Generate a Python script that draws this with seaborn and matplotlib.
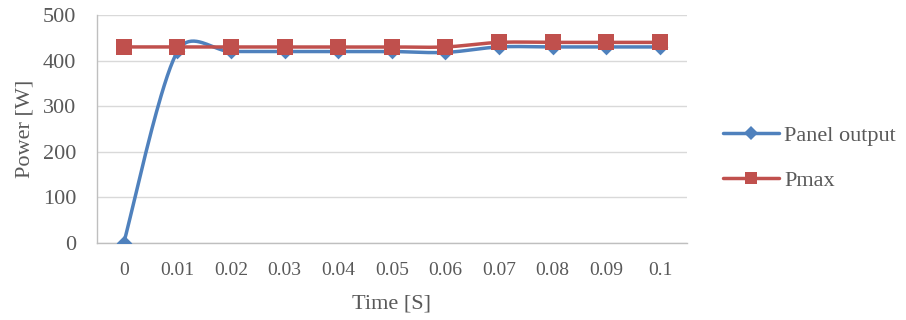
import numpy as np
import pandas as pd
import matplotlib
matplotlib.use("Agg")
import matplotlib.pyplot as plt
from matplotlib.lines import Line2D
import seaborn as sns

categories = ["0", "0.01", "0.02", "0.03", "0.04", "0.05", "0.06", "0.07", "0.08", "0.09", "0.1"]
panel_output = [0, 420, 420, 420, 420, 420, 418, 430, 430, 430, 430]
pmax = [430, 430, 430, 430, 430, 430, 430, 440, 440, 440, 440]
series_names = ["Panel output", "Pmax"]
colors = {"Panel output": "#4F81BD", "Pmax": "#C0504D"}
markers = {"Panel output": "D", "Pmax": "s"}
msizes = {"Panel output": 8, "Pmax": 11}
leg_msizes = {"Panel output": 7, "Pmax": 9}

FIG_W, FIG_H, DPI = 9.06, 3.2, 100
AX_RECT = [0.107, 0.241, 0.651, 0.712]
YMAX = 500


def smooth(y, n=40):
    """Excel-like Bezier smoothing, computed in pixel space."""
    ncat = len(y)
    sx = AX_RECT[2] * FIG_W * DPI / ncat          # px per category
    sy = AX_RECT[3] * FIG_H * DPI / YMAX          # px per data unit
    P = np.column_stack([np.arange(ncat) * sx, np.asarray(y, float) * sy])
    out = []
    for i in range(ncat - 1):
        p0 = P[i - 1] if i > 0 else P[i]
        p1, p2 = P[i], P[i + 1]
        p3 = P[i + 2] if i + 2 < ncat else P[i + 1]
        d02 = np.linalg.norm(p2 - p0)
        d12 = np.linalg.norm(p2 - p1)
        d13 = np.linalg.norm(p3 - p1)
        f0 = min(1 / 6, d12 / (2 * d02)) if d02 > 0 else 0
        f3 = min(1 / 6, d12 / (2 * d13)) if d13 > 0 else 0
        c1 = p1 + f0 * (p2 - p0)
        c2 = p2 - f3 * (p3 - p1)
        t = np.linspace(0, 1, n, endpoint=(i == ncat - 2))[:, None]
        b = ((1 - t) ** 3 * p1 + 3 * (1 - t) ** 2 * t * c1
             + 3 * (1 - t) * t ** 2 * c2 + t ** 3 * p2)
        out.append(b)
    B = np.vstack(out)
    return B[:, 0] / sx, B[:, 1] / sy


sns.set_style("white")
plt.rcParams["font.family"] = ["Liberation Serif", "DejaVu Serif"]

fig = plt.figure(figsize=(FIG_W, FIG_H), dpi=DPI)
ax = fig.add_axes(AX_RECT)

gray = "#595959"
for name, vals in zip(series_names, [panel_output, pmax]):
    sxv, syv = smooth(vals)
    sns.lineplot(x=sxv, y=syv, ax=ax, color=colors[name], linewidth=2.5,
                 sort=False, legend=False, zorder=3)
    df = pd.DataFrame({"x": np.arange(len(vals)), "y": vals})
    sns.scatterplot(data=df, x="x", y="y", ax=ax, color=colors[name],
                    marker=markers[name], s=msizes[name] ** 2,
                    edgecolor=colors[name], linewidth=0, legend=False, zorder=4)

ax.set_xlim(-0.5, len(categories) - 0.5)
ax.set_ylim(0, YMAX)
ax.set_yticks(range(0, YMAX + 1, 100))
ax.set_xticks(range(len(categories)))
ax.set_xticklabels(categories)
ax.set_xticks(np.arange(-0.5, len(categories), 1.0), minor=True)
ax.tick_params(axis="x", which="major", length=0, pad=14, labelsize=14, colors=gray)
ax.tick_params(axis="x", which="minor", length=5, color="#BFBFBF", width=1)
ax.tick_params(axis="y", which="major", length=5, color="#BFBFBF", width=1,
               labelsize=16, colors=gray, pad=10)
ax.yaxis.grid(True, color="#D9D9D9", linewidth=1)
ax.xaxis.grid(False)
for s in ["top", "right"]:
    ax.spines[s].set_visible(False)
for s in ["left", "bottom"]:
    ax.spines[s].set_color("#BFBFBF")
    ax.spines[s].set_linewidth(1)
ax.set_axisbelow(True)

ax.set_xlabel("Time [S]", fontsize=16, color=gray, labelpad=11)
ax.set_ylabel("Power [W]", fontsize=16, color=gray, labelpad=6)

handles = [Line2D([0], [0], color=colors[n], linewidth=2.5, marker=markers[n],
                  markersize=leg_msizes[n], markeredgewidth=0) for n in series_names]
leg = fig.legend(handles, series_names, loc="upper left", bbox_to_anchor=(0.776, 0.672),
                 frameon=False, handlelength=2.5, labelspacing=1.1, handletextpad=0.25,
                 prop={"size": 16})
for t in leg.get_texts():
    t.set_color(gray)

fig.savefig("out.png", dpi=DPI)
